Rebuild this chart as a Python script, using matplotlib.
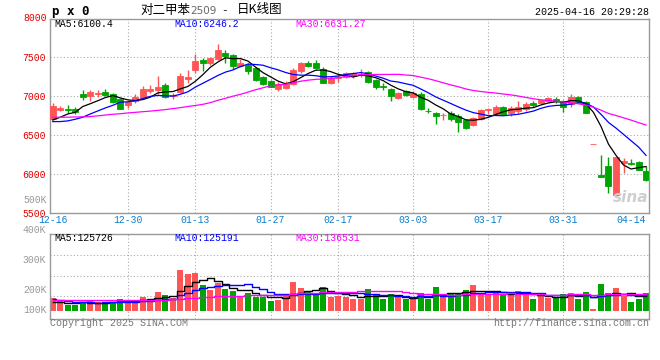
import matplotlib
matplotlib.use('Agg')
import matplotlib.pyplot as plt
import numpy as np
import pandas as pd

# 交易日
dates = ['12-16', '12-17', '12-18', '12-19', '12-20', '12-23', '12-24', '12-25', '12-26', '12-27',
         '12-30', '12-31', '01-02', '01-03', '01-06', '01-07', '01-08', '01-09', '01-10', '01-13',
         '01-14', '01-15', '01-16', '01-17', '01-20', '01-21', '01-22', '01-23', '01-24', '01-27',
         '02-05', '02-06', '02-07', '02-10', '02-11', '02-12', '02-13', '02-14', '02-17', '02-18',
         '02-19', '02-20', '02-21', '02-24', '02-25', '02-26', '02-27', '02-28', '03-03', '03-04',
         '03-05', '03-06', '03-07', '03-10', '03-11', '03-12', '03-13', '03-14', '03-17', '03-18',
         '03-19', '03-20', '03-21', '03-24', '03-25', '03-26', '03-27', '03-28', '03-31', '04-01',
         '04-02', '04-03', '04-07', '04-08', '04-09', '04-10', '04-11', '04-14', '04-15', '04-16']

opens = [6701, 6825, 6838, 6838, 7026, 7000, 7026, 7051, 7021, 6957,
         6880, 6940, 6979, 7068, 7077, 7141, 7000, 7055, 7213, 7333,
         7461, 7427, 7470, 7547, 7525, 7389, 7401, 7363, 7248, 7192,
         7094, 7107, 7154, 7325, 7427, 7427, 7342, 7162, 7230, 7248,
         7261, 7273, 7312, 7205, 7132, 7094, 6979, 7064, 6991, 7026,
         6812, 6786, 6752, 6778, 6744, 6692, 6628, 6701, 6816, 6769,
         6863, 6786, 6812, 6829, 6906, 6906, 6936, 6962, 6936, 6897,
         6991, 6927, 6381, 5979, 6103, 5732, 6137, 6137, 6154, 6039]
highs = [6906, 6872, 6880, 6855, 7077, 7077, 7077, 7085, 7034, 6970,
         6940, 7021, 7128, 7141, 7256, 7162, 7043, 7299, 7333, 7538,
         7482, 7504, 7667, 7590, 7534, 7470, 7418, 7376, 7256, 7205,
         7179, 7196, 7354, 7435, 7453, 7461, 7376, 7256, 7290, 7312,
         7312, 7342, 7325, 7213, 7162, 7107, 7055, 7077, 7064, 7047,
         6850, 6795, 6778, 6812, 6769, 6705, 6735, 6833, 6850, 6880,
         6872, 6872, 6936, 6919, 6936, 6949, 6991, 6991, 6949, 7026,
         7000, 6940, 6381, 6244, 6222, 6222, 6201, 6188, 6167, 6103]
lows = [6690, 6812, 6778, 6769, 6949, 6940, 6991, 7000, 6915, 6829,
        6850, 6906, 6966, 7034, 7026, 6979, 6957, 7043, 7162, 7290,
        7325, 7401, 7461, 7427, 7350, 7376, 7278, 7192, 7137, 7111,
        7064, 7090, 7141, 7299, 7376, 7342, 7162, 7154, 7180, 7235,
        7226, 7248, 7171, 7094, 7077, 6940, 6966, 7000, 6970, 6820,
        6778, 6641, 6692, 6684, 6543, 6573, 6615, 6692, 6769, 6756,
        6752, 6744, 6778, 6803, 6855, 6893, 6923, 6915, 6799, 6855,
        6915, 6778, 6381, 5958, 5753, 5702, 6009, 6116, 6043, 5902]
closes = [6872, 6850, 6816, 6795, 6991, 7051, 7043, 7017, 6927, 6838,
          6927, 6991, 7085, 7085, 7111, 6991, 7013, 7256, 7243, 7448,
          7418, 7487, 7590, 7513, 7389, 7427, 7325, 7205, 7154, 7120,
          7154, 7150, 7333, 7418, 7389, 7363, 7171, 7226, 7240, 7299,
          7290, 7282, 7184, 7120, 7111, 7000, 7043, 7009, 7034, 6829,
          6805, 6744, 6760, 6701, 6671, 6594, 6714, 6821, 6829, 6855,
          6769, 6842, 6855, 6897, 6885, 6945, 6970, 6936, 6863, 6991,
          6927, 6786, 6381, 5962, 5847, 6210, 6167, 6120, 6052, 5915]
volumes = [103000, 84000, 49000, 49000, 68000, 81000, 73000, 70000, 76000, 97000,
           76000, 89000, 113000, 95000, 154000, 130000, 103000, 332000, 300000, 308000,
           211000, 170000, 227000, 178000, 162000, 116000, 149000, 116000, 116000, 81000,
           89000, 127000, 235000, 186000, 162000, 143000, 194000, 113000, 124000, 113000,
           100000, 100000, 178000, 130000, 97000, 140000, 113000, 97000, 97000, 146000,
           97000, 194000, 127000, 146000, 146000, 170000, 211000, 135000, 135000, 146000,
           140000, 143000, 162000, 135000, 97000, 127000, 105000, 116000, 138000, 146000,
           97000, 154000, 16000, 219000, 146000, 186000, 122000, 73000, 97000, 146000]

# 均线开头几天（区间之前的数据不可见，从图上读出）
ma5_head = [6692, 6727, 6769, 6790]
ma10_head = [6671, 6671, 6680, 6701, 6727, 6769, 6808, 6846, 6880]
ma30_head = [6727, 6727, 6728, 6730, 6732, 6735, 6745, 6755, 6765, 6772,
             6782, 6790, 6798, 6806, 6815, 6825, 6838, 6850, 6865, 6878,
             6893, 6915, 6945, 6970, 6998, 7021, 7050, 7080, 7105]
vma5_head = [76000, 72000, 66000, 62000]
vma10_head = [94000, 90000, 82000, 76000, 72000, 70000, 68000, 69000, 70000]
vma30_head = [90000, 90000, 89000, 89000, 89000, 89000, 89000, 89000, 89000, 90000,
              90000, 90000, 90000, 91000, 92000, 93000, 94000, 100000, 103000, 107000,
              112000, 115000, 118000, 121000, 123000, 125000, 127000, 129000, 131000]

tick_dates = ['12-16', '12-30', '01-13', '01-27', '02-17', '03-03', '03-17', '03-31', '04-14']
price_ticks = [5500, 6000, 6500, 7000, 7500]


def moving_avg(values, n, head):
    ma = pd.Series(values, dtype=float).rolling(n).mean().to_numpy()
    ma[:n - 1] = head
    return ma


RED = '#ff5555'
GREEN = '#00a400'
GRID = '#aaaaaa'
MONO = 'Liberation Mono'

x = np.arange(len(dates))
o, h, l, c = map(np.array, (opens, highs, lows, closes))
cols = np.where(c >= o, RED, GREEN)
tick_idx = [dates.index(d) for d in tick_dates]

fig = plt.figure(figsize=(6.6, 3.6), dpi=100)
ax = fig.add_axes([0.0758, 0.4092, 0.9076, 0.5381])
axv = fig.add_axes([0.0758, 0.1139, 0.9076, 0.2361])

for a in (ax, axv):
    a.set_xlim(-0.36, 79.4)
    for s in a.spines.values():
        s.set_color('#999999')
        s.set_linewidth(1)
    for t in tick_idx[1:-1]:
        a.axvline(t, color=GRID, lw=0.8, ls=(0, (1, 2)), zorder=0)

# K线
ax.vlines(x, l, h, colors=cols, lw=1, zorder=2)
ax.bar(x, np.abs(c - o), bottom=np.minimum(o, c), width=0.8, color=cols,
       edgecolor=cols, linewidth=0.6, zorder=3)
ax.plot(x, moving_avg(closes, 5, ma5_head), color='black', lw=0.9, zorder=4)
ax.plot(x, moving_avg(closes, 10, ma10_head), color='#0000ff', lw=0.9, zorder=4)
ax.plot(x, moving_avg(closes, 30, ma30_head), color='#ff00ff', lw=0.9, zorder=4)

ax.set_ylim(5500, 7990)
ax.set_yticks(price_ticks)
ax.set_yticklabels([str(p) for p in price_ticks], color='#e00000', family=MONO, fontsize=7)
ax.yaxis.grid(True, color=GRID, lw=0.8, ls=(0, (1, 2)))
ax.set_axisbelow(True)
ax.set_xticks(tick_idx)
ax.set_xticklabels(tick_dates, color='#0a7fcf', family=MONO, fontsize=7)
ax.tick_params(length=0, pad=3)
ax.tick_params(axis='x', pad=2)
ax.text(-0.006, 8000, '8000', color='#e00000', family=MONO, fontsize=7,
        ha='right', va='center', transform=ax.get_yaxis_transform(), clip_on=False)

ma_y = 0.974
ax.text(0.008, ma_y, 'MA5:6100.4', color='black', family=MONO, fontsize=7,
        transform=ax.transAxes, va='center')
ax.text(0.208, ma_y, 'MA10:6246.2', color='#0000ff', family=MONO, fontsize=7,
        transform=ax.transAxes, va='center')
ax.text(0.409, ma_y, 'MA30:6631.27', color='#ff00ff', family=MONO, fontsize=7,
        transform=ax.transAxes, va='center')
ax.text(0.998, 0.08, 'sina', color='#cfcfcf', fontsize=11, fontweight='bold',
        style='italic', ha='right', va='center', transform=ax.transAxes)

# 成交量
v = np.array(volumes)
axv.bar(x, v, width=0.8, color=cols, linewidth=0, zorder=2)
axv.plot(x, moving_avg(volumes, 5, vma5_head), color='black', lw=1, drawstyle='steps-mid', zorder=3)
axv.plot(x, moving_avg(volumes, 10, vma10_head), color='#0000ff', lw=1, drawstyle='steps-mid', zorder=3)
axv.plot(x, moving_avg(volumes, 30, vma30_head), color='#ff00ff', lw=1, drawstyle='steps-mid', zorder=3)
vlo, vhi = -64800, 623700
axv.set_ylim(vlo, vhi)
axv.set_yticks([vlo + f * (vhi - vlo) for f in (0.27, 0.506, 0.753)])
axv.set_yticklabels([])
axv.yaxis.grid(True, color=GRID, lw=0.8, ls=(0, (1, 2)))
axv.set_axisbelow(True)
axv.set_xticks([])
axv.tick_params(length=0)

for lab, fy in [('100K', 0.106), ('200K', 0.341), ('300K', 0.694), ('400K', 1.047), ('500K', 1.4)]:
    axv.text(-0.006, fy, lab, color='#999999', family=MONO, fontsize=7,
             ha='right', va='center', transform=axv.transAxes, clip_on=False)

vy = 0.953
axv.text(0.008, vy, 'MA5:125726', color='black', family=MONO, fontsize=7,
         transform=axv.transAxes, va='center')
axv.text(0.208, vy, 'MA10:125191', color='#0000ff', family=MONO, fontsize=7,
         transform=axv.transAxes, va='center')
axv.text(0.409, vy, 'MA30:136531', color='#ff00ff', family=MONO, fontsize=7,
         transform=axv.transAxes, va='center')

# 标题和页脚
fig.text(52 / 660, 1 - 11 / 360, 'p x 0', family='DejaVu Sans Mono', fontweight='bold',
         fontsize=9, va='center')
fig.text(140 / 660, 1 - 10 / 360, '对二甲苯', family='Noto Sans CJK SC', fontsize=9, va='center')
fig.text(190 / 660, 1 - 11 / 360, '2509', family='DejaVu Sans', color='#666666', fontsize=7.5, va='center')
fig.text(221 / 660, 1 - 10 / 360, '-', family=MONO, fontsize=8, va='center')
fig.text(237 / 660, 1 - 10 / 360, '日K线图', family='Noto Sans CJK SC', fontsize=9, va='center')
fig.text(649 / 660, 1 - 12 / 360, '2025-04-16 20:29:28', family=MONO, fontsize=7.2,
         ha='right', va='center')
fig.text(50 / 660, 1 - 323 / 360, 'Copyright 2025 SINA.COM', family=MONO, fontsize=7.2,
         color='#777777', va='center')
fig.text(649 / 660, 1 - 323 / 360, 'http://finance.sina.com.cn', family=MONO, fontsize=7.2,
         color='#777777', ha='right', va='center')

fig.savefig('out.png', dpi=100)
